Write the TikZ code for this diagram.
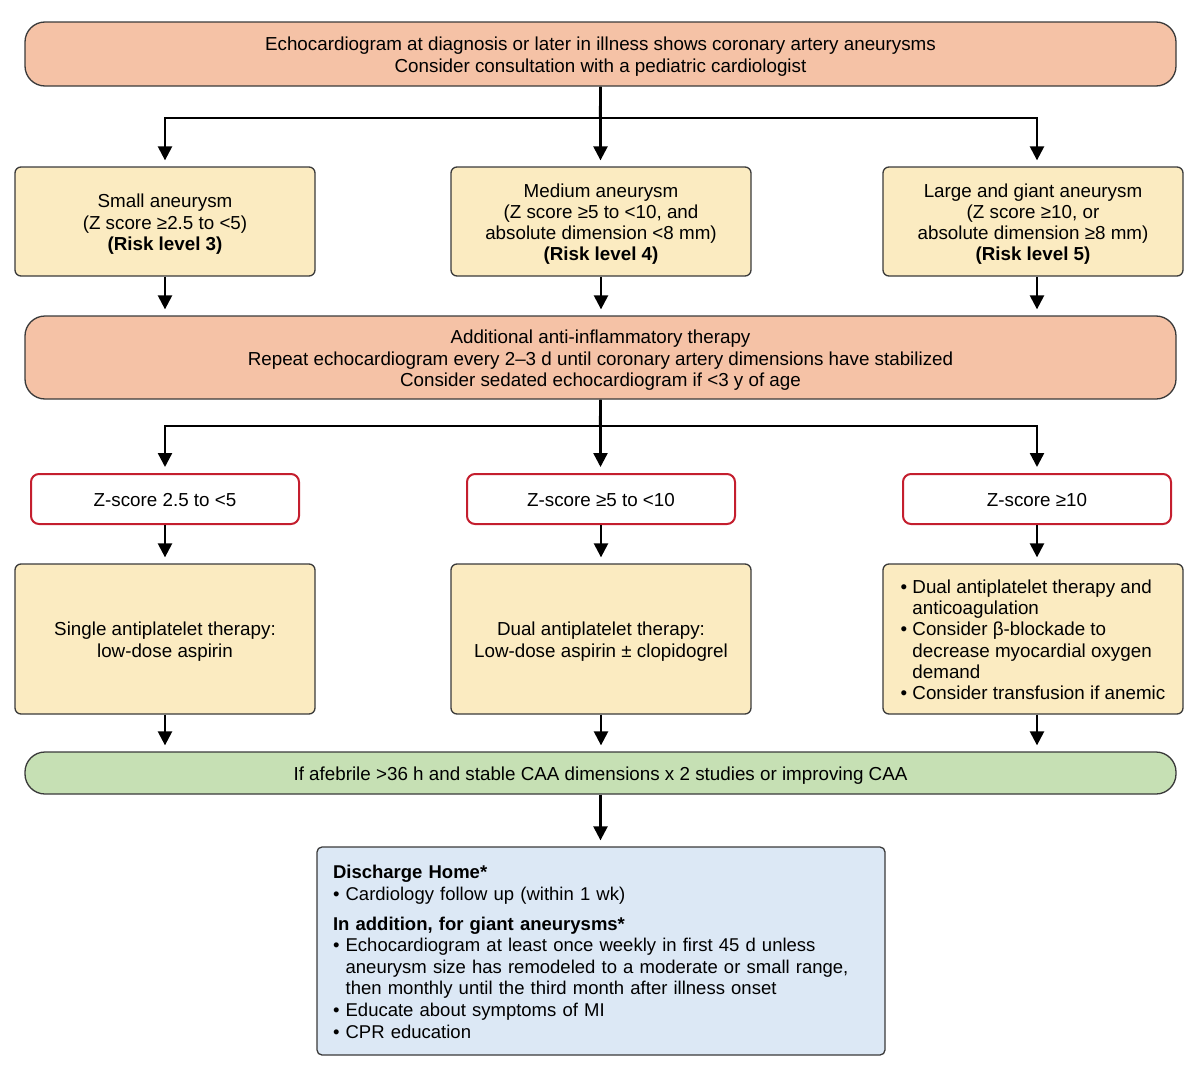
\documentclass[tikz,border=0pt]{standalone}
\usepackage{fontspec}
\setmainfont{Liberation Sans}
\usetikzlibrary{arrows.meta}
\definecolor{salmon}{HTML}{F5C2A6}
\definecolor{pale}{HTML}{FBEBC1}
\definecolor{mint}{HTML}{C6E0B4}
\definecolor{sky}{HTML}{DCE8F5}
\definecolor{redb}{HTML}{C41E2E}
\definecolor{edge}{HTML}{3A3A3A}
\newcommand{\bul}{\textbullet\ }
\newcommand{\bulind}{\hphantom{\textbullet\ }}
\newcommand{\tp}{\rule{0pt}{19pt}}
\begin{document}
\begin{tikzpicture}[x=1pt,y=-1pt,
 base/.style={draw=edge, line width=1.3pt, font=\fontsize{18.8}{21.3}\selectfont, align=center, inner sep=0pt,
   execute at end node={\rule[-4pt]{0pt}{4pt}}},
 wide/.style={base, fill=salmon, rounded corners=20pt, minimum width=1151pt},
 riskbox/.style={base, fill=pale, rounded corners=6pt, minimum width=300pt},
 zbox/.style={base, draw=redb, line width=2pt, fill=white, rounded corners=8pt, minimum width=268pt, minimum height=50pt},
 arr/.style={line width=2.4pt, -{Triangle[width=14pt,length=14pt]}, shorten >=6pt},
 plain/.style={line width=2.4pt}]
\useasboundingbox (0,0) rectangle (1200,1076);

\node[wide, minimum height=64pt] (top) at (600.5,54) {\tp Echocardiogram at diagnosis or later in illness shows coronary artery aneurysms\\Consider consultation with a pediatric cardiologist};

\node[riskbox, minimum height=109pt] (small) at (165,221.5) {\tp Small aneurysm\\(Z score ≥2.5 to <5)\\\textbf{(Risk level 3)}};
\node[riskbox, minimum height=109pt] (med) at (601,221.5) {\tp Medium aneurysm\\(Z score ≥5 to <10, and\\absolute dimension <8 mm)\\\textbf{(Risk level 4)}};
\node[riskbox, minimum height=109pt] (large) at (1033,221.5) {\tp Large and giant aneurysm\\(Z score ≥10, or\\absolute dimension ≥8 mm)\\\textbf{(Risk level 5)}};

\node[wide, minimum height=83pt] (ther) at (600.5,357.5) {\tp Additional anti-inflammatory therapy\\Repeat echocardiogram every 2–3 d until coronary artery dimensions have stabilized\\Consider sedated echocardiogram if <3 y of age};

\node[zbox] (zL) at (165,499) {\tp Z-score 2.5 to <5};
\node[zbox] (zM) at (601,499) {\tp Z-score ≥5 to <10};
\node[zbox] (zR) at (1037,499) {\tp Z-score ≥10};

\node[riskbox, minimum height=150pt] (tL) at (165,639) {\tp Single antiplatelet therapy:\\low-dose aspirin};
\node[riskbox, minimum height=150pt] (tM) at (601,639) {\tp Dual antiplatelet therapy:\\Low-dose aspirin ± clopidogrel};
\node[riskbox, minimum height=150pt, align=left] (tR) at (1033,639) {\tp\bul Dual antiplatelet therapy and\\\bulind anticoagulation\\\bul Consider β-blockade to\\\bulind decrease myocardial oxygen\\\bulind demand\\\bul Consider transfusion if anemic};

\node[base, fill=mint, rounded corners=20pt, minimum width=1151pt, minimum height=42pt] (green) at (600.5,773) {\tp If afebrile >36 h and stable CAA dimensions x 2 studies or improving CAA};

\node[base, font=\fontsize{18.5}{21.6}\selectfont, fill=sky, rounded corners=5pt, minimum width=568pt, minimum height=208pt, text width=536pt, align=left] (home) at (601,951) {\tp\textbf{Discharge Home*}\\\bul Cardiology follow up (within 1 wk)\\[8pt]\textbf{In addition, for giant aneurysms*}\\\bul Echocardiogram at least once weekly in first 45 d unless\\\bulind aneurysm size has remodeled to a moderate or small range,\\\bulind then monthly until the third month after illness onset\\\bul Educate about symptoms of MI\\\bul CPR education};

\coordinate (j1) at (600,118);
\coordinate (j2) at (600,426);
\coordinate (xr) at (1037,0);

\draw[plain] (top.south) -- (j1);
\draw[arr] (j1) -| (small.north);
\draw[arr] (j1) -| (large.north -| xr);
\draw[arr] (top.south) -- (med.north -| top.south);

\draw[arr] (small.south) -- (ther.north -| small.south);
\draw[arr] (med.south) -- (ther.north -| med.south);
\draw[arr] (large.south -| xr) -- (ther.north -| xr);

\draw[plain] (ther.south) -- (j2);
\draw[arr] (j2) -| (zL.north);
\draw[arr] (j2) -| (zR.north);
\draw[arr] (ther.south) -- (zM.north -| ther.south);

\draw[arr] (zL.south) -- (tL.north);
\draw[arr] (zM.south) -- (tM.north);
\draw[arr] (zR.south) -- (tR.north -| zR.south);

\draw[arr] (tL.south) -- (green.north -| tL.south);
\draw[arr] (tM.south) -- (green.north -| tM.south);
\draw[arr] (tR.south -| xr) -- (green.north -| xr);

\draw[arr] (green.south) -- (home.north -| green.south);
\end{tikzpicture}
\end{document}
